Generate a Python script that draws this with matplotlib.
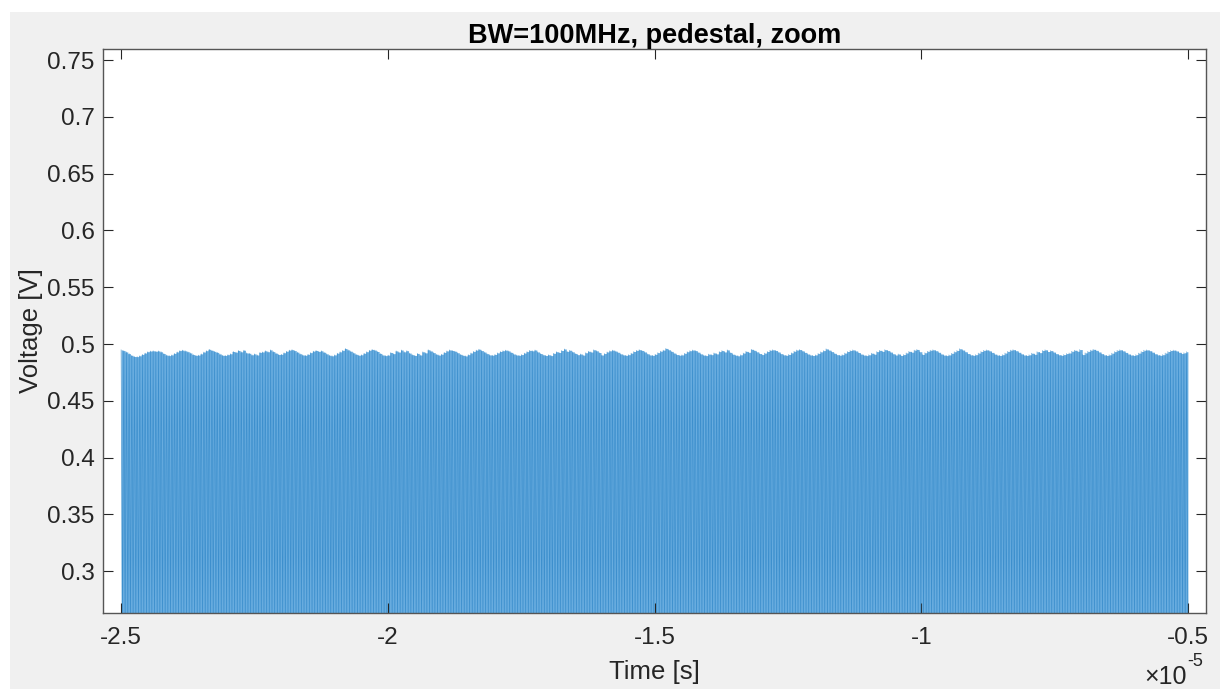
import numpy as np
import matplotlib.pyplot as plt
from matplotlib.patches import Rectangle

plt.rcParams['font.family'] = ['Liberation Sans', 'DejaVu Sans']

# pulse tops of the pedestal signal, in mV (one value per pulse)
peak_mv = [
    494.8, 494.2, 493.0, 491.5, 490.0, 489.0, 488.9, 489.6, 490.8, 492.0, 493.2, 493.8, 494.0, 493.6, 493.9, 493.1, 491.6, 490.3, 489.8, 490.4,
    491.7, 493.0, 494.2, 494.6, 494.0, 493.2, 492.1, 490.7, 490.0, 490.2, 491.3, 492.9, 494.1, 495.3, 494.4, 493.5, 492.6, 491.2, 490.1, 489.9,
    490.6, 491.4, 493.4, 492.8, 494.3, 493.1, 494.5, 492.2, 491.8, 490.5, 491.3, 490.3, 492.6, 493.0, 494.0, 493.2, 494.8, 493.3, 491.9, 490.8,
    490.9, 492.3, 493.6, 494.6, 495.0, 494.2, 492.8, 491.4, 490.4, 490.0, 490.9, 492.4, 493.7, 494.3, 493.5, 494.0, 492.7, 491.3, 490.1, 489.6,
    490.4, 491.9, 493.1, 494.4, 496.0, 494.8, 493.6, 492.2, 490.9, 490.1, 490.5, 491.8, 493.2, 494.5, 495.2, 494.6, 493.4, 491.7, 490.3, 489.8,
    490.2, 492.5, 491.5, 493.9, 492.9, 494.7, 493.1, 494.1, 492.0, 490.6, 489.9, 491.7, 490.3, 493.1, 492.2, 494.9, 493.8, 492.4, 491.0, 490.2,
    491.0, 492.6, 493.9, 494.8, 494.3, 493.6, 492.3, 490.9, 490.0, 489.5, 490.6, 492.1, 493.5, 494.6, 495.4, 494.2, 492.9, 491.5, 490.4, 490.1,
    490.8, 492.2, 493.4, 494.1, 494.6, 493.9, 492.6, 491.2, 490.3, 490.0, 490.7, 492.0, 493.3, 494.4, 494.0, 494.7, 493.0, 491.6, 490.5, 489.9,
    490.5, 489.8, 491.8, 493.2, 492.5, 494.3, 495.6, 493.5, 494.5, 493.1, 491.7, 490.6, 491.2, 490.2, 492.3, 493.6, 492.9, 494.9, 494.0, 492.5,
    490.3, 491.6, 493.0, 494.0, 494.6, 493.8, 492.7, 491.3, 490.4, 490.0, 490.6, 491.9, 493.4, 494.4, 495.0, 494.3, 493.0, 491.4, 490.3, 490.0,
    490.9, 492.4, 493.7, 494.6, 496.1, 494.9, 493.5, 492.0, 490.7, 490.1, 490.4, 491.8, 493.2, 494.1, 494.7, 494.2, 492.8, 491.3, 490.2, 489.8,
    491.1, 490.6, 492.1, 491.3, 493.3, 494.2, 493.0, 494.8, 492.6, 491.0, 490.1, 489.6, 490.5, 492.0, 493.5, 492.7, 495.3, 494.4, 493.1, 491.6,
    490.7, 492.0, 493.4, 494.5, 494.9, 494.3, 493.0, 491.5, 490.4, 490.0, 490.8, 492.2, 493.6, 494.7, 495.1, 494.0, 492.6, 491.2, 490.3, 489.9,
    490.4, 491.7, 493.1, 494.2, 495.7, 494.6, 493.3, 491.8, 490.6, 490.1, 490.6, 492.0, 493.4, 494.3, 494.8, 493.9, 492.5, 491.1, 490.2, 489.8,
    490.5, 491.9, 491.0, 493.3, 494.4, 493.5, 495.0, 494.2, 492.9, 491.4, 490.3, 491.2, 489.9, 490.7, 492.1, 493.5, 492.8, 494.6, 495.2, 493.2,
    490.8, 492.3, 493.6, 494.5, 494.9, 494.1, 492.7, 491.2, 490.2, 489.8, 490.4, 491.8, 493.2, 494.3, 495.8, 494.7, 493.2, 491.6, 490.4, 490.0,
    490.6, 492.0, 493.4, 494.4, 494.8, 494.0, 492.6, 491.1, 490.2, 489.9, 490.6, 492.0, 493.5, 494.6, 495.0, 494.1, 492.7, 491.3, 490.3, 489.9,
    490.5, 491.9, 490.9, 493.2, 492.4, 494.3, 494.9, 493.4, 494.2, 492.9, 491.5, 490.5, 490.0, 490.7, 491.6, 492.1, 493.6, 494.5, 493.6, 495.1,
    490.7, 492.2, 493.5, 494.6, 495.3, 494.4, 493.0, 491.5, 490.4, 489.9, 490.5, 491.9, 493.3, 494.4, 494.9, 494.0, 492.6, 491.2, 490.3, 489.9,
    490.6, 492.0, 493.4, 494.5, 494.8, 494.1, 492.8, 491.4, 490.4, 490.0, 490.6, 492.0, 493.4, 494.3, 494.6, 493.9, 492.7, 491.6, 492.3, 493.2,
]
low_v = 0.25          # baseline between pulses (V), below the zoom window
t_start, t_stop = -2.5e-5, -0.5e-5

xticks = [-2.5e-5, -2e-5, -1.5e-5, -1e-5, -0.5e-5]
xticklabels = ['-2.5', '-2', '-1.5', '-1', '-0.5']
yticks = [0.3, 0.35, 0.4, 0.45, 0.5, 0.55, 0.6, 0.65, 0.7, 0.75]
yticklabels = ['0.3', '0.35', '0.4', '0.45', '0.5', '0.55', '0.6', '0.65', '0.7', '0.75']

# pulse train: top, baseline, top, baseline ...
peaks = np.array(peak_mv) / 1000.0
t_peaks = np.linspace(t_start, t_stop, len(peaks))
v = np.empty(2 * len(peaks))
v[0::2] = peaks
v[1::2] = low_v
t = np.linspace(t_start, t_stop, len(v))

txt = '#262626'
fig = plt.figure(figsize=(12.26, 6.89), dpi=100, facecolor='white')
fig.patches.append(Rectangle((10 / 1226, 0), 1210 / 1226, 677 / 689,
                             transform=fig.transFigure, facecolor='#F0F0F0',
                             edgecolor='none', zorder=-10))
ax = fig.add_axes([0.0840, 0.1103, 0.8997, 0.8186])
# the pulses are too dense to resolve: shade each pulse up to its top, trace on top
ax.fill_between(t_peaks, peaks, low_v, step='mid', color='#68ACDF', lw=0)
ax.plot(t, v, color='#2C84C6', lw=0.5, alpha=0.7)

ax.set_xlim(-2.534e-5, -0.466e-5)
ax.set_ylim(0.2632, 0.7597)
ax.set_xticks(xticks)
ax.set_xticklabels(xticklabels)
ax.set_yticks(yticks)
ax.set_yticklabels(yticklabels)
ax.tick_params(direction='in', length=7, width=0.8, color=txt, labelcolor=txt,
               labelsize=17.5, top=True, right=True, pad=6)
ax.tick_params(axis='x', pad=10)
for s in ax.spines.values():
    s.set_color('#555555')
    s.set_linewidth(1.0)

ax.set_title('BW=100MHz, pedestal, zoom', fontsize=19.5, fontweight='bold',
             color='black', pad=4)
ax.set_xlabel('Time [s]', fontsize=18.5, color=txt, labelpad=8)
ax.set_ylabel('Voltage [V]', fontsize=18.5, color=txt, labelpad=3)

# exponent of the time axis
fig.text(1187 / 1226, 1 - 677 / 689, '\u00d710', ha='right', va='center',
         fontsize=18, color=txt)
fig.text(1187 / 1226, 1 - 662 / 689, '-5', ha='left', va='center',
         fontsize=13, color=txt)

fig.savefig('out.png', dpi=100, facecolor=fig.get_facecolor())
